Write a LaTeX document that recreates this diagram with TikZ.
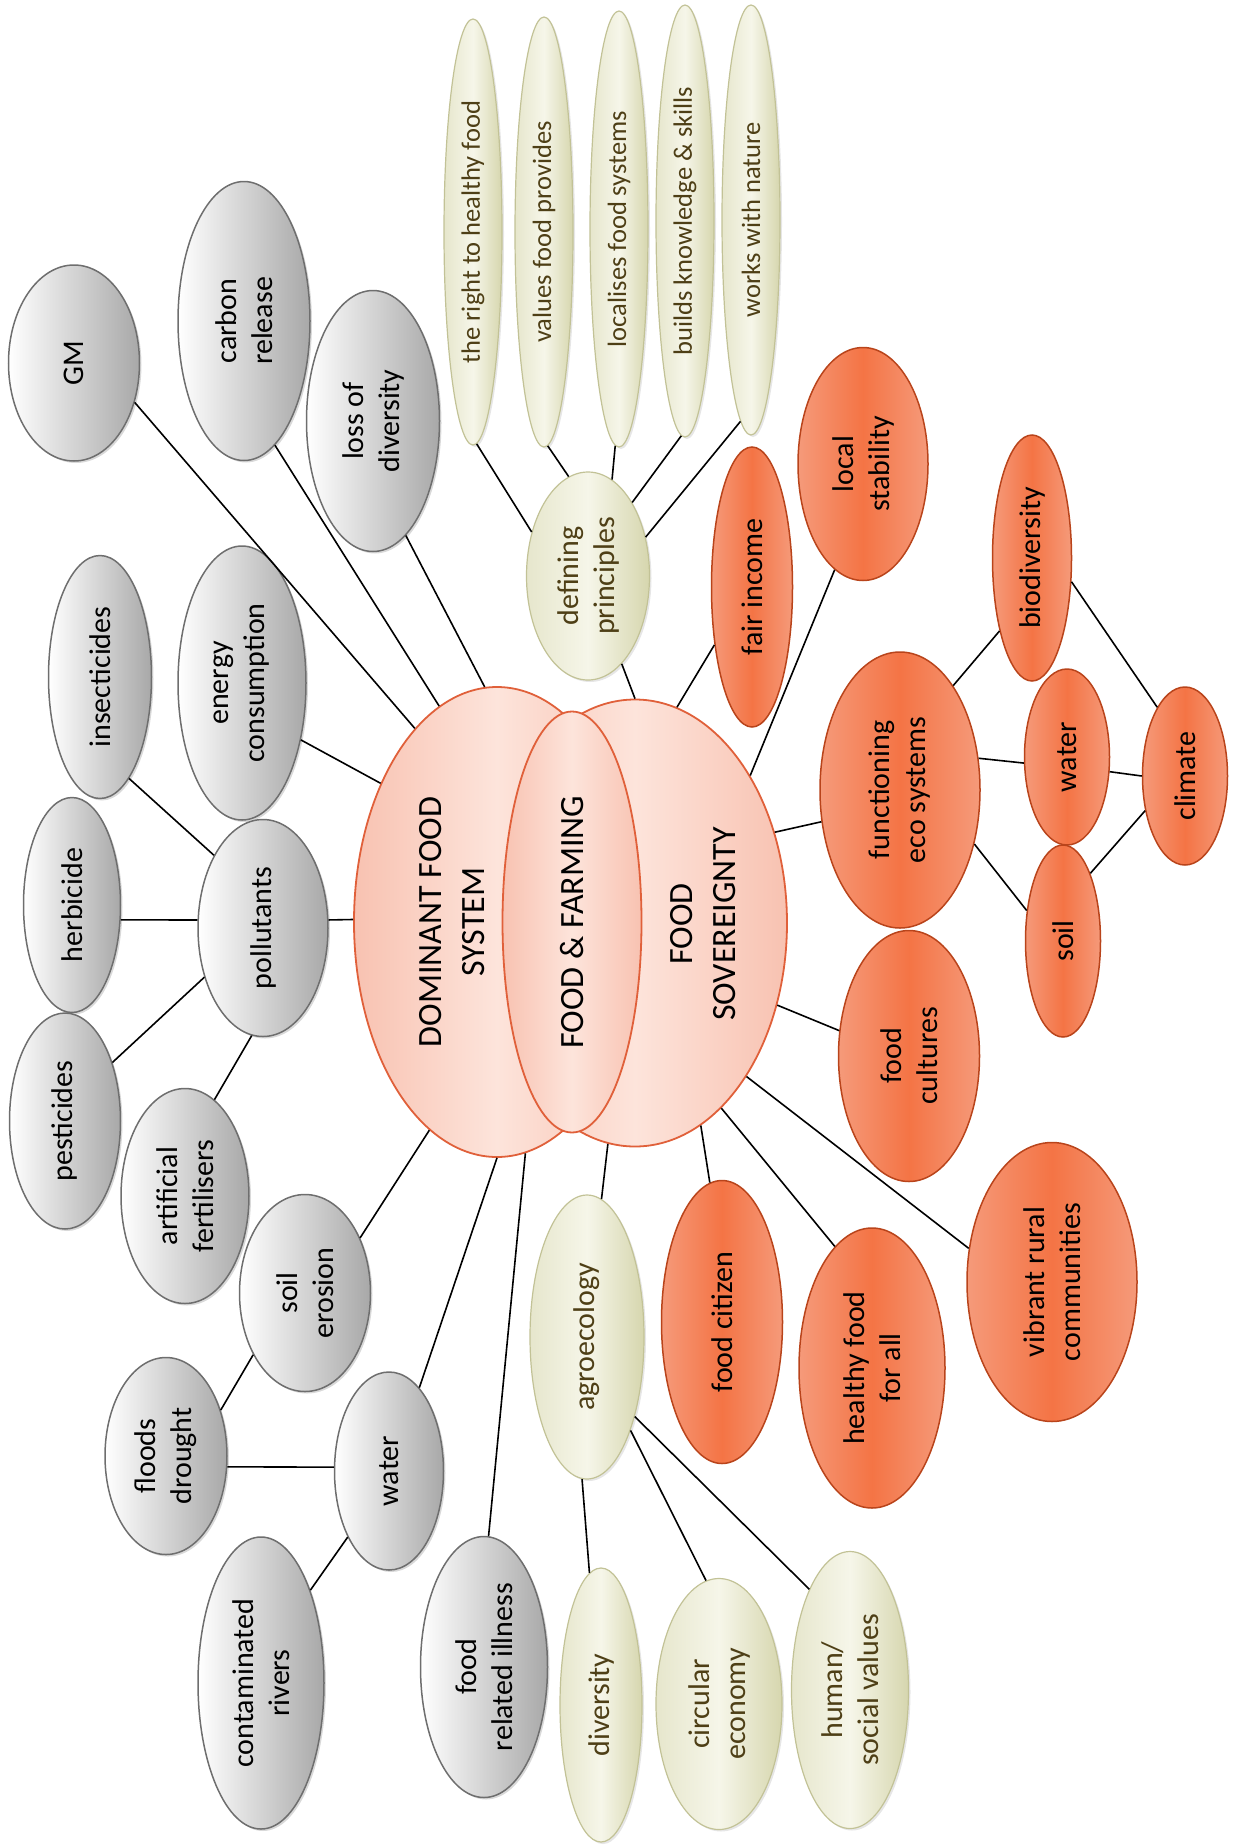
\documentclass[tikz,border=0pt]{standalone}
\usepackage{fontspec}
\setmainfont{Carlito}
\usetikzlibrary{shapes.geometric,shadows}

\definecolor{greyline}{HTML}{6E6E6E}
\definecolor{greyshade}{HTML}{A8A8A8}
\definecolor{creamlight}{HTML}{F6F6E9}
\definecolor{creammid}{HTML}{E6E6CC}
\definecolor{creamdark}{HTML}{D6D6AE}
\definecolor{creamline}{HTML}{C2C296}
\definecolor{creamtext}{HTML}{4E3F16}
\definecolor{orangelight}{HTML}{F59A7A}
\definecolor{orangemid}{HTML}{F47445}
\definecolor{orangeline}{HTML}{B9441B}
\definecolor{pinklight}{HTML}{FDE4DB}
\definecolor{pinkdark}{HTML}{F8C2B1}
\definecolor{pinkline}{HTML}{E0603A}

\tikzset{
  bubble/.style={ellipse, rotate=90, inner sep=0pt, align=center, font=\fontsize{30}{36}\selectfont},
  greybub/.style={bubble, draw=greyline, line width=1.5pt, left color=white, right color=greyshade,
    drop shadow={shadow xshift=2pt, shadow yshift=-2pt, opacity=0.3}},
  creambub/.style={bubble, draw=creamline, line width=1.2pt, left color=creammid, right color=creamdark,
    middle color=creamlight, text=creamtext, drop shadow={shadow xshift=2pt, shadow yshift=-2pt, opacity=0.2}},
  orangebub/.style={bubble, draw=orangeline, line width=1.5pt, left color=orangelight, right color=orangelight,
    middle color=orangemid},
  corebub/.style={ellipse, rotate=90, inner sep=0pt, draw=pinkline, line width=1.8pt, left color=pinkdark,
    right color=pinkdark, middle color=pinklight},
  coretext/.style={rotate=90, align=center, font=\fontsize{34}{43}\selectfont},
  link/.style={line width=1.6pt, color=black},
}

\begin{document}
\begin{tikzpicture}
				\useasboundingbox (0pt, 0pt) rectangle (1242pt, -1845pt);
				% centre
				\node (fs) [corebub, minimum width=447pt, minimum height=304pt] at (635pt, -923pt) {};
				\node (dfs) [corebub, minimum width=470pt, minimum height=286pt] at (497pt, -922pt) {};
				\node (ff) [corebub, minimum width=421pt, minimum height=139pt, font=\fontsize{34}{43}\selectfont] at (572pt, -922pt) {FOOD \& FARMING};
				\node (dfstext) [coretext] at (452pt, -922pt) {DOMINANT FOOD\\SYSTEM};
				\node (fstext) [coretext] at (703pt, -924pt) {FOOD\\SOVEREIGNTY};
				% dominant food system
				\node (gm) [greybub, minimum width=196pt, minimum height=131pt] at (74pt, -363pt) {GM};
				\node (carbon) [greybub, minimum width=279pt, minimum height=132pt] at (244pt, -321pt) {carbon\\release};
				\node (loss) [greybub, minimum width=261pt, minimum height=133pt] at (373pt, -421pt) {loss of\\diversity};
				\node (insect) [greybub, minimum width=243pt, minimum height=103pt] at (100pt, -677pt) {insecticides};
				\node (energy) [greybub, minimum width=274pt, minimum height=128pt] at (242pt, -683pt) {energy\\consumption};
				\node (herb) [greybub, minimum width=215pt, minimum height=97pt] at (72pt, -905pt) {herbicide};
				\node (pest) [greybub, minimum width=216pt, minimum height=111pt] at (65pt, -1121pt) {pesticides};
				\node (poll) [greybub, minimum width=217pt, minimum height=130pt] at (263pt, -928pt) {pollutants};
				\node (artfert) [greybub, minimum width=215pt, minimum height=128pt] at (185pt, -1196pt) {artificial\\fertilisers};
				\node (soilero) [greybub, minimum width=197pt, minimum height=131pt] at (305pt, -1293pt) {soil\\erosion};
				\node (floods) [greybub, minimum width=197pt, minimum height=122pt] at (166pt, -1456pt) {floods\\drought};
				\node (waterd) [greybub, minimum width=198pt, minimum height=109pt] at (389pt, -1471pt) {water};
				\node (contam) [greybub, minimum width=292pt, minimum height=126pt] at (261pt, -1683pt) {contaminated\\rivers};
				\node (illness) [greybub, minimum width=261pt, minimum height=127pt] at (484pt, -1667pt) {food\\related illness};
				% defining principles
				\node (right) [creambub, minimum width=426pt, minimum height=58pt, font=\fontsize{26.5}{32}\selectfont] at (473pt, -232pt) {the right to healthy food};
				\node (values) [creambub, minimum width=430pt, minimum height=58pt, font=\fontsize{26.5}{32}\selectfont] at (544pt, -232pt) {values food provides};
				\node (localises) [creambub, minimum width=436pt, minimum height=58pt, font=\fontsize{26.5}{32}\selectfont] at (619pt, -229pt) {localises food systems};
				\node (builds) [creambub, minimum width=432pt, minimum height=58pt, font=\fontsize{26.5}{32}\selectfont] at (685pt, -221pt) {builds knowledge \& skills};
				\node (works) [creambub, minimum width=430pt, minimum height=58pt, font=\fontsize{26.5}{32}\selectfont] at (751pt, -220pt) {works with nature};
				\node (defp) [creambub, minimum width=208pt, minimum height=123pt] at (588pt, -576pt) {defining\\principles};
				% food sovereignty
				\node (fair) [orangebub, minimum width=280pt, minimum height=81pt] at (752pt, -587pt) {fair income};
				\node (local) [orangebub, minimum width=233pt, minimum height=130pt] at (863pt, -464pt) {local\\stability};
				\node (biodiv) [orangebub, minimum width=246pt, minimum height=79pt] at (1032pt, -558pt) {biodiversity};
				\node (func) [orangebub, minimum width=276pt, minimum height=160pt] at (900pt, -790pt) {functioning\\eco systems};
				\node (waterf) [orangebub, minimum width=176pt, minimum height=85pt] at (1067pt, -757pt) {water};
				\node (soilf) [orangebub, minimum width=192pt, minimum height=75pt] at (1063pt, -941pt) {soil};
				\node (climate) [orangebub, minimum width=178pt, minimum height=85pt] at (1185pt, -776pt) {climate};
				\node (cultures) [orangebub, minimum width=251pt, minimum height=141pt] at (909pt, -1056pt) {food\\cultures};
				\node (vibrant) [orangebub, minimum width=279pt, minimum height=170pt] at (1052pt, -1282pt) {vibrant rural\\communities};
				\node (healthy) [orangebub, minimum width=280pt, minimum height=146pt] at (872pt, -1368pt) {healthy food\\for all};
				\node (citizen) [orangebub, minimum width=283pt, minimum height=121pt] at (722pt, -1322pt) {food citizen};
				% agroecology
				\node (agro) [creambub, minimum width=284pt, minimum height=114pt] at (587pt, -1337pt) {agroecology};
				\node (diversity) [creambub, minimum width=274pt, minimum height=82pt] at (601pt, -1705pt) {diversity};
				\node (circular) [creambub, minimum width=251pt, minimum height=126pt] at (719pt, -1704pt) {circular\\economy};
				\node (human) [creambub, minimum width=277pt, minimum height=117pt] at (850pt, -1690pt) {human/\\social values};
				% links
				\draw [link] (gm.-123) to (dfs.23);
				\draw [link] (carbon.-166) to (dfs.15);
				\draw [link] (loss.-164) to (dfs.3);
				\draw [link] (energy.-134) to (dfs.40);
				\draw [link] (poll.-83) to (dfs.89);
				\draw [link] (insect.-164) to (poll.34);
				\draw [link] (herb.-107) to (poll.83);
				\draw [link] (pest.-39) to (poll.130);
				\draw [link] (artfert.-17) to (poll.174);
				\draw [link] (soilero.-45) to (dfs.162);
				\draw [link] (waterd.-20) to (dfs.180);
				\draw [link] (illness.-2) to (dfs.-173);
				\draw [link] (floods.-50) to (soilero.140);
				\draw [link] (floods.-100) to (waterd.86);
				\draw [link] (waterd.148) to (contam.-28);
				\draw [link] (defp.-159) to (fs.0);
				\draw [link] (right.-179) to (defp.52);
				\draw [link] (values.-179) to (defp.11);
				\draw [link] (localises.179) to (defp.-14);
				\draw [link] (builds.179) to (defp.-31);
				\draw [link] (works.177) to (defp.-56);
				\draw [link] (fair.147) to (fs.-11);
				\draw [link] (local.165) to (fs.-38);
				\draw [link] (func.112) to (fs.-57);
				\draw [link] (cultures.70) to (fs.-120);
				\draw [link] (vibrant.68) to (fs.-144);
				\draw [link] (healthy.17) to (fs.-155);
				\draw [link] (citizen.5) to (fs.-162);
				\draw [link] (agro.-6) to (fs.173);
				\draw [link] (agro.178) to (diversity.5);
				\draw [link] (agro.-155) to (circular.6);
				\draw [link] (agro.-149) to (human.22);
				\draw [link] (func.-27) to (biodiv.156);
				\draw [link] (func.-68) to (waterf.98);
				\draw [link] (func.-126) to (soilf.50);
				\draw [link] (waterf.-109) to (climate.90);
				\draw [link] (soilf.-22) to (climate.131);
				\draw [link] (biodiv.-121) to (climate.22);
			\end{tikzpicture}
\end{document}
